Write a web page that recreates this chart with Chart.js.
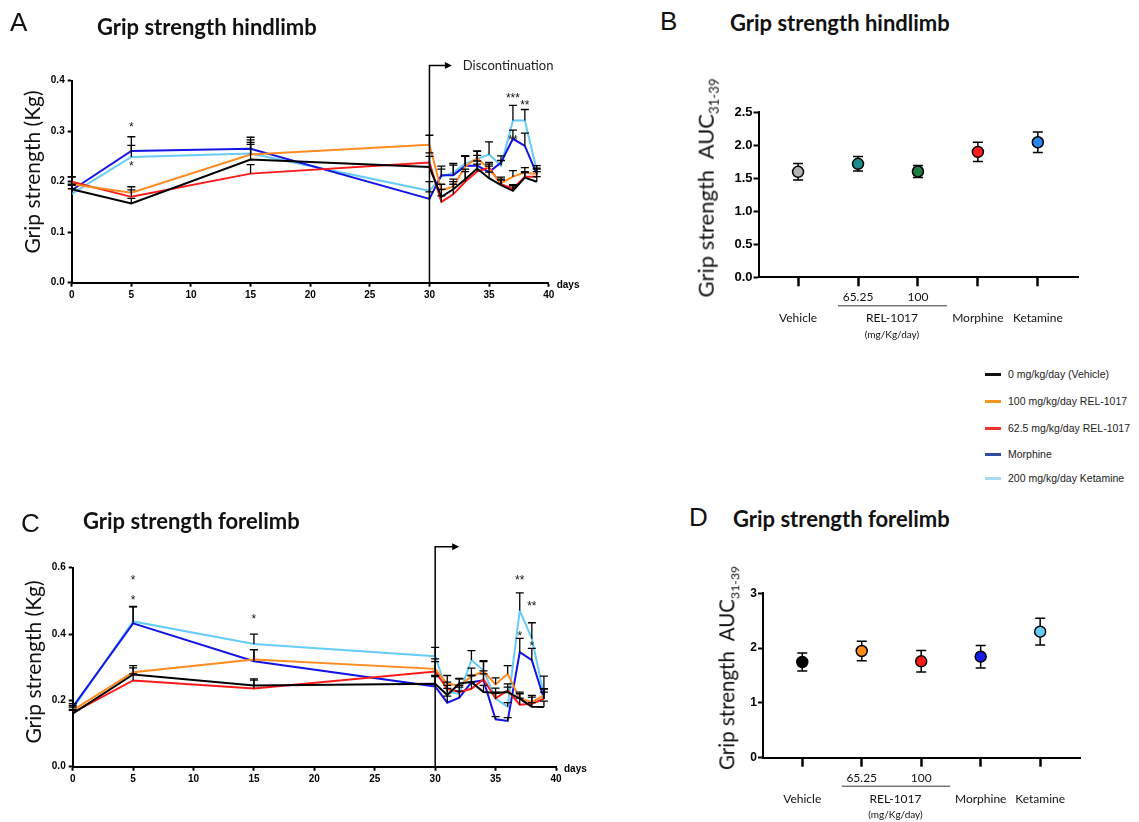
<!DOCTYPE html>
<html lang="en">
<head>
<meta charset="UTF-8" />
<title>Grip strength</title>
<script src="https://cdn.jsdelivr.net/npm/chart.js@4.4.1/dist/chart.umd.min.js"></script>
<style>
  body { margin: 0; background: #fff; }
  #page { position: relative; width: 1139px; height: 822px; overflow: hidden; font-family: Lato, sans-serif; color: #111; }
  #page canvas { position: absolute; }
  .letter { position: absolute; font-family: 'Liberation Sans', Arial, sans-serif; font-size: 26px; line-height: 26px; }
  .title { position: absolute; font-weight: bold; font-size: 22px; line-height: 22px; white-space: nowrap; }
  .ytitle { position: absolute; white-space: nowrap; line-height: 1; transform: translate(-50%, -50%) rotate(-90deg); }
  .ytitle sub { font-size: 60%; }
  #legend { position: absolute; left: 985px; top: 0; font-family: 'Liberation Sans', Arial, sans-serif; font-size: 10.5px; color: #222; }
  #legend div { position: absolute; left: 0; white-space: nowrap; height: 14px; line-height: 14px; }
  #legend span { display: inline-block; width: 16px; height: 3px; vertical-align: middle; margin-right: 7px; position: relative; top: -1px; }
</style>
</head>
<body>
<div id="page">
  <canvas id="chartA" width="620" height="320" style="left:0;top:0"></canvas>
  <canvas id="chartC" width="620" height="320" style="left:0;top:480px"></canvas>
  <canvas id="chartB" width="480" height="300" style="left:640px;top:60px"></canvas>
  <canvas id="chartD" width="480" height="282" style="left:640px;top:540px"></canvas>

  <div class="letter" style="left:10px;top:9px">A</div>
  <div class="letter" style="left:660px;top:8px">B</div>
  <div class="letter" style="left:21px;top:510px">C</div>
  <div class="letter" style="left:689px;top:504px">D</div>

  <div class="title" style="left:97px;top:16px">Grip strength hindlimb</div>
  <div class="title" style="left:730px;top:12px">Grip strength hindlimb</div>
  <div class="title" style="left:83px;top:510px">Grip strength forelimb</div>
  <div class="title" style="left:733px;top:508px">Grip strength forelimb</div>

  <div class="ytitle" style="left:31px;top:172px;font-size:21px">Grip strength (Kg)</div>
  <div class="ytitle" style="left:32px;top:662px;font-size:21px">Grip strength (Kg)</div>
  <div class="ytitle" style="left:708px;top:188px;font-size:22px">Grip strength&nbsp; AUC<sub>31-39</sub></div>
  <div class="ytitle" style="left:729px;top:668px;font-size:20.5px">Grip strength&nbsp; AUC<sub>31-39</sub></div>

  <div id="legend"></div>
</div>
<script>
// groups (legend order)
const groupNames = ['0 mg/kg/day (Vehicle)', '100 mg/kg/day REL-1017', '62.5 mg/kg/day REL-1017', 'Morphine', '200 mg/kg/day Ketamine'];
const lineColors = ['#000000', '#ff8a1f', '#ff1a1a', '#1414e6', '#66ccf8'];
const legendColors = ['#111111', '#f7941d', '#e8352a', '#2e4da0', '#a6dbf2'];

const days = [0, 5, 15, 30, 31, 32, 33, 34, 35, 36, 37, 38, 39];

// hindlimb (A)
const hindVehicle = [0.185, 0.157, 0.244, 0.229, 0.170, 0.185, 0.205, 0.226, 0.207, 0.193, 0.182, 0.208, 0.200];
const hindRel100  = [0.195, 0.178, 0.254, 0.273, 0.183, 0.190, 0.230, 0.247, 0.225, 0.197, 0.210, 0.218, 0.215];
const hindRel625  = [0.200, 0.170, 0.216, 0.238, 0.160, 0.175, 0.200, 0.220, 0.228, 0.195, 0.186, 0.210, 0.210];
const hindMorph   = [0.183, 0.261, 0.265, 0.166, 0.213, 0.213, 0.231, 0.232, 0.219, 0.238, 0.285, 0.271, 0.215];
const hindKet     = [0.176, 0.249, 0.256, 0.182, 0.210, 0.218, 0.236, 0.245, 0.254, 0.232, 0.321, 0.321, 0.222];
const hindVehicleErr = [0.010, 0.010, 0.030, 0.021, 0.015, 0.015, 0.020, 0.015, 0.012, 0.010, 0.010, 0.010, 0.010];
const hindRel100Err  = [0.014, 0.012, 0.024, 0.019, 0.012, 0.015, 0.020, 0.014, 0.010, 0.012, 0.012, 0.010, 0.010];
const hindRel625Err  = [0.010, 0.014, 0.018, 0.019, 0.012, 0.020, 0.020, 0.015, 0.010, 0.010, 0.008, 0.010, 0.010];
const hindMorphErr   = [0.010, 0.028, 0.023, 0.014, 0.018, 0.020, 0.020, 0.020, 0.012, 0.013, 0.017, 0.025, 0.012];
const hindKetErr     = [0.010, 0.023, 0.027, 0.018, 0.015, 0.018, 0.015, 0.015, 0.025, 0.010, 0.030, 0.022, 0.010];
const hindStars = [[5, 0.315, '*'], [5, 0.237, '*'], [37, 0.372, '***'], [38, 0.357, '**'], [37, 0.289, '**']];

// forelimb (C)
const foreVehicle = [0.160, 0.278, 0.245, 0.250, 0.216, 0.251, 0.255, 0.225, 0.222, 0.225, 0.205, 0.181, 0.180];
const foreRel100  = [0.170, 0.285, 0.323, 0.295, 0.250, 0.245, 0.272, 0.287, 0.248, 0.280, 0.205, 0.195, 0.215];
const foreRel625  = [0.163, 0.260, 0.236, 0.287, 0.235, 0.225, 0.235, 0.264, 0.206, 0.230, 0.187, 0.190, 0.205];
const foreMorph   = [0.180, 0.432, 0.318, 0.242, 0.193, 0.208, 0.255, 0.260, 0.143, 0.138, 0.345, 0.321, 0.205];
const foreKet     = [0.175, 0.438, 0.370, 0.333, 0.225, 0.220, 0.322, 0.290, 0.205, 0.181, 0.471, 0.386, 0.216];
const foreVehicleErr = [0.010, 0.020, 0.020, 0.025, 0.020, 0.015, 0.020, 0.020, 0.015, 0.015, 0.015, 0.012, 0.018];
const foreRel100Err  = [0.010, 0.020, 0.030, 0.030, 0.025, 0.020, 0.025, 0.030, 0.020, 0.025, 0.020, 0.020, 0.020];
const foreRel625Err  = [0.010, 0.020, 0.025, 0.030, 0.020, 0.020, 0.020, 0.025, 0.015, 0.020, 0.020, 0.020, 0.020];
const foreMorphErr   = [0.010, 0.050, 0.035, 0.030, 0.020, 0.020, 0.020, 0.020, 0.008, 0.010, 0.042, 0.036, 0.030];
const foreKetErr     = [0.010, 0.045, 0.030, 0.027, 0.020, 0.020, 0.028, 0.030, 0.020, 0.012, 0.053, 0.048, 0.057];
const foreStars = [[5, 0.572, '*'], [5, 0.512, '*'], [15, 0.454, '*'], [37, 0.573, '**'], [38, 0.493, '**'], [37, 0.404, '*'], [38, 0.373, '*']];

// AUC 31-39 (B, D)
const aucTopRow    = ['', '65.25', '100', '', ''];
const aucBottomRow = ['Vehicle', '', '', 'Morphine', 'Ketamine'];
const hindAuc    = [1.595, 1.716, 1.600, 1.896, 2.042];
const hindAucErr = [0.125, 0.110, 0.090, 0.145, 0.156];
const hindAucColors = ['#b3b3b3', '#1c8c8c', '#1f7a44', '#ff1f1f', '#2a86e8'];
const foreAuc    = [1.746, 1.947, 1.759, 1.844, 2.300];
const foreAucErr = [0.165, 0.180, 0.195, 0.205, 0.245];
const foreAucColors = ['#000000', '#ff8c1a', '#ff1a1a', '#1a1ae6', '#66ccf5'];

const boldTick = { family: "'Liberation Sans', Arial, sans-serif", weight: 'bold', size: 10 };

// legend
const legendTops = [367, 394, 421, 447, 471];
groupNames.forEach((name, k) => {
  const row = document.createElement('div');
  row.style.top = legendTops[k] + 'px';
  row.innerHTML = '<span style="background:' + legendColors[k] + '"></span>' + name;
  document.getElementById('legend').appendChild(row);
});

// error bars, upper only for time course, both for AUC
const errorBars = {
  id: 'errorBars',
  draw(chart, o) {
    const ctx = chart.ctx, ys = chart.scales.y;
    ctx.save();
    ctx.strokeStyle = '#000';
    ctx.lineWidth = o.width;
    chart.data.datasets.forEach((ds, i) => {
      const meta = chart.getDatasetMeta(i);
      meta.data.forEach((el, j) => {
        const v = ds.data[j].y, e = ds.err[j];
        const top = ys.getPixelForValue(v + e);
        const bot = o.both ? ys.getPixelForValue(v - e) : el.y;
        ctx.beginPath();
        ctx.moveTo(el.x, bot); ctx.lineTo(el.x, top);
        ctx.moveTo(el.x - o.cap / 2, top); ctx.lineTo(el.x + o.cap / 2, top);
        if (o.both) { ctx.moveTo(el.x - o.cap / 2, bot); ctx.lineTo(el.x + o.cap / 2, bot); }
        ctx.stroke();
      });
    });
    ctx.restore();
  },
  beforeDatasetsDraw(chart, args, o) { if (o.behind) this.draw(chart, o); },
  afterDatasetsDraw(chart, args, o) { if (!o.behind) this.draw(chart, o); }
};

const stars = {
  id: 'stars',
  afterDraw(chart, args, o) {
    const ctx = chart.ctx;
    ctx.save();
    ctx.fillStyle = '#111';
    ctx.font = "12px 'Liberation Sans', Arial, sans-serif";
    ctx.textAlign = 'center';
    ctx.textBaseline = 'alphabetic';
    o.list.forEach(([d, v, t]) => {
      ctx.fillText(t, chart.scales.x.getPixelForValue(d), chart.scales.y.getPixelForValue(v) + 7);
    });
    ctx.restore();
  }
};

// vertical line + arrow at discontinuation
const discont = {
  id: 'discont',
  afterDraw(chart, args, o) {
    const ctx = chart.ctx;
    const x = chart.scales.x.getPixelForValue(o.day);
    const y = chart.scales.y.getPixelForValue(o.top);
    const b = chart.chartArea.bottom;
    ctx.save();
    ctx.strokeStyle = '#000';
    ctx.fillStyle = '#000';
    ctx.lineWidth = 1.5;
    ctx.beginPath();
    ctx.moveTo(x, b); ctx.lineTo(x, y); ctx.lineTo(x + o.len - 5, y);
    ctx.stroke();
    ctx.beginPath();
    ctx.moveTo(x + o.len, y); ctx.lineTo(x + o.len - 7, y - 3.5); ctx.lineTo(x + o.len - 7, y + 3.5);
    ctx.closePath(); ctx.fill();
    if (o.text) {
      ctx.fillStyle = '#222';
      ctx.font = '13px Lato';
      ctx.textAlign = 'left';
      ctx.textBaseline = 'middle';
      ctx.fillText(o.text, x + o.len + 11, y);
    }
    // axis unit
    ctx.fillStyle = '#000';
    ctx.font = "bold 10px 'Liberation Sans', Arial, sans-serif";
    ctx.textAlign = 'left';
    ctx.textBaseline = 'middle';
    ctx.fillText('days', chart.chartArea.right + 8, b + 3);
    ctx.restore();
  }
};

// REL-1017 group bracket under the AUC axis
const groupLabel = {
  id: 'groupLabel',
  afterDraw(chart, args, o) {
    const ctx = chart.ctx, xs = chart.scales.x, b = chart.chartArea.bottom;
    const x1 = xs.getPixelForValue(2), x2 = xs.getPixelForValue(3);
    ctx.save();
    ctx.strokeStyle = '#333';
    ctx.lineWidth = 1;
    ctx.beginPath();
    ctx.moveTo(x1 - 20, b + 28.5); ctx.lineTo(x2 + 29, b + 28.5);
    ctx.stroke();
    ctx.fillStyle = '#111';
    ctx.textAlign = 'center';
    ctx.textBaseline = 'middle';
    const cx = (x1 + x2) / 2 + 4;
    ctx.font = '12px Lato';
    ctx.fillText('REL-1017', cx, b + 41);
    ctx.font = '10px Lato';
    ctx.fillText('(mg/Kg/day)', cx, b + 57);
    ctx.restore();
  }
};

function axisStyle(tickLen, tickW) {
  return {
    grid: { drawOnChartArea: false, drawTicks: true, tickLength: tickLen, tickWidth: tickW, tickColor: '#000' },
    border: { display: true, color: '#000', width: 2 }
  };
}

function timeChart(id, series, errs, starList, box) {
  return new Chart(document.getElementById(id), {
    type: 'line',
    data: {
      datasets: series.map((vals, k) => ({
        label: groupNames[k],
        data: days.map((d, i) => ({ x: d, y: vals[i] })),
        err: errs[k],
        borderColor: lineColors[k],
        borderWidth: 2,
        pointRadius: 0,
        tension: 0,
        fill: false
      }))
    },
    options: {
      responsive: false,
      animation: false,
      layout: { padding: { left: 0, top: box.top, right: box.right, bottom: 0 } },
      plugins: {
        legend: { display: false },
        tooltip: { enabled: false },
        errorBars: { cap: 8, width: 1.3, behind: false },
        stars: { list: starList },
        discont: { day: 30, top: box.arrowTop, len: box.arrowLen, text: box.text }
      },
      scales: {
        x: {
          type: 'linear', min: 0, max: 40,
          afterFit: s => { s.height = box.xh; },
          ticks: { stepSize: 5, font: boldTick, color: '#000', padding: 3, maxRotation: 0 },
          ...axisStyle(4, 2)
        },
        y: {
          min: 0, max: box.ymax,
          afterFit: s => { s.width = box.yw; },
          ticks: { stepSize: box.ystep, font: boldTick, color: '#000', padding: 3, callback: v => v.toFixed(1) },
          ...axisStyle(4, 2)
        }
      }
    },
    plugins: [errorBars, stars, discont]
  });
}

function aucChart(id, vals, errs, colors, box) {
  return new Chart(document.getElementById(id), {
    type: 'scatter',
    data: {
      datasets: [{
        data: vals.map((v, i) => ({ x: i + 1, y: v })),
        err: errs,
        pointRadius: 5.5,
        pointBorderWidth: 1.5,
        pointBorderColor: '#000',
        pointBackgroundColor: colors
      }]
    },
    options: {
      responsive: false,
      animation: false,
      layout: { padding: { left: 0, top: box.top, right: box.right, bottom: 0 } },
      plugins: {
        legend: { display: false },
        tooltip: { enabled: false },
        errorBars: { cap: 10, width: 1.5, behind: true, both: true }
      },
      scales: {
        x: {
          type: 'linear', min: 0.34, max: 5.67,
          afterFit: s => { s.height = box.xh; },
          afterBuildTicks: s => { s.ticks = vals.map((v, i) => ({ value: i + 1 })); },
          ticks: {
            autoSkip: false, maxRotation: 0, padding: 0.5, color: '#111',
            font: { family: 'Lato', size: 12, lineHeight: 1.75 },
            callback: v => [aucTopRow[v - 1], aucBottomRow[v - 1]]
          },
          ...axisStyle(9, 2.5)
        },
        y: {
          min: 0, max: box.ymax,
          afterFit: s => { s.width = box.yw; },
          ticks: {
            stepSize: box.ystep, color: '#000', padding: 1,
            font: { family: "'Liberation Sans', Arial, sans-serif", weight: 'bold', size: box.tickSize },
            callback: v => v.toFixed(box.dec)
          },
          ...axisStyle(5, 2)
        }
      }
    },
    plugins: [errorBars, groupLabel]
  });
}

timeChart('chartA',
  [hindVehicle, hindRel100, hindRel625, hindMorph, hindKet],
  [hindVehicleErr, hindRel100Err, hindRel625Err, hindMorphErr, hindKetErr],
  hindStars,
  { top: 80.7, right: 71.3, xh: 37.3, yw: 71.7, ymax: 0.4, ystep: 0.1, arrowTop: 0.43, arrowLen: 22.4, text: 'Discontinuation' });

timeChart('chartC',
  [foreVehicle, foreRel100, foreRel625, foreMorph, foreKet],
  [foreVehicleErr, foreRel100Err, foreRel625Err, foreMorphErr, foreKetErr],
  foreStars,
  { top: 87.7, right: 64, xh: 33.3, yw: 72.7, ymax: 0.6, ystep: 0.2, arrowTop: 0.663, arrowLen: 24, text: '' });

aucChart('chartB', hindAuc, hindAucErr, hindAucColors,
  { top: 52, right: 42, xh: 82.7, yw: 118.5, ymax: 2.5, ystep: 0.5, tickSize: 13, dec: 1 });

aucChart('chartD', foreAuc, foreAucErr, foreAucColors,
  { top: 53.3, right: 40, xh: 64.3, yw: 123, ymax: 3, ystep: 1, tickSize: 12, dec: 0 });
</script>
</body>
</html>
